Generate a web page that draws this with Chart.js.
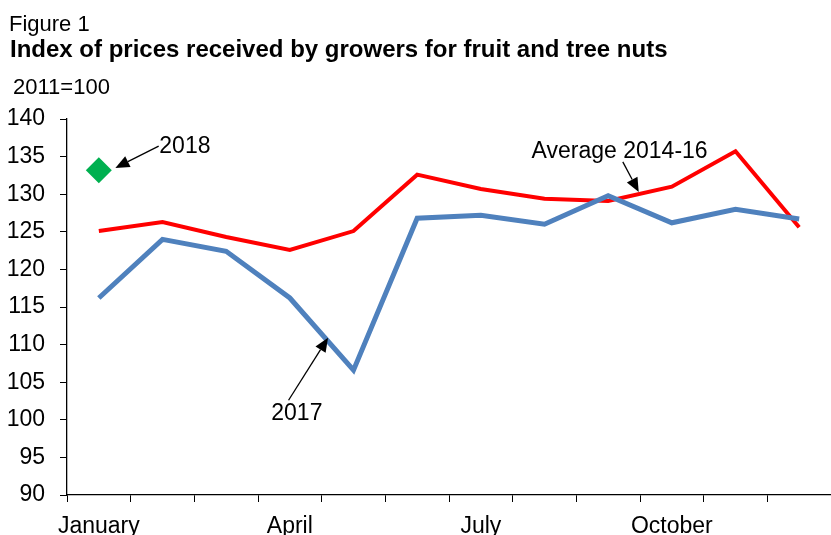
<!DOCTYPE html>
<html>
<head>
<meta charset="utf-8">
<script src="https://cdn.jsdelivr.net/npm/chart.js@4.4.1/dist/chart.umd.min.js"></script>
<style>
  html, body { margin: 0; padding: 0; background: #fff; overflow: hidden; }
  canvas { display: block; }
</style>
</head>
<body>
<canvas id="chart-fig1" width="831" height="535"></canvas>
<script>
// Index of prices received by growers for fruit and tree nuts (2011=100)
const months = ["January", "February", "March", "April", "May", "June",
  "July", "August", "September", "October", "November", "December"];
const shownMonths = ["January", "April", "July", "October"];

const avg2014to16 = [125.1, 126.3, 124.3, 122.6, 125.1, 132.6, 130.7, 129.4, 129.1, 131.0, 135.7, 125.6];
const values2017 = [116.2, 124.0, 122.4, 116.2, 106.6, 126.8, 127.2, 126.0, 129.8, 126.2, 128.0, 126.7];
const values2018 = [133.2, null, null, null, null, null, null, null, null, null, null, null];

const yTicks = [90, 95, 100, 105, 110, 115, 120, 125, 130, 135, 140];

// Callout labels with arrows, positioned in data units (x = month index, y = index value)
const callouts = [
  { text: "2018", tx: 0.95, ty: 136.3, align: "left", from: [0.94, 136.4], to: [0.26, 133.5] },
  { text: "Average 2014-16", tx: 8.18, ty: 135.6, align: "center", from: [8.23, 134.3], to: [8.48, 130.3] },
  { text: "2017", tx: 3.11, ty: 100.8, align: "center", from: [2.98, 102.6], to: [3.6, 110.9] }
];

const FONT = "'Liberation Sans', Arial, sans-serif";

const headerPlugin = {
  id: 'header',
  afterDraw: (chart) => {
    const c = chart.ctx;
    c.save();
    c.fillStyle = '#000';
    c.textBaseline = 'alphabetic';
    c.textAlign = 'left';
    c.font = '22px ' + FONT;
    c.fillText('Figure 1', 9, 31);
    c.font = 'bold 24px ' + FONT;
    c.fillText('Index of prices received by growers for fruit and tree nuts', 10, 57);
    c.font = '22px ' + FONT;
    c.fillText('2011=100', 13, 94);
    c.restore();
  }
};

// draws the callout text and arrows
const calloutPlugin = {
  id: 'callouts',
  afterDatasetsDraw: (chart) => {
    const c = chart.ctx;
    const xs = chart.scales.x, ys = chart.scales.y;
    const px = (i) => xs.getPixelForValue(0) + i * (xs.getPixelForValue(1) - xs.getPixelForValue(0));
    c.save();
    c.font = '23px ' + FONT;
    c.fillStyle = '#000';
    c.strokeStyle = '#000';
    callouts.forEach(co => {
      c.textAlign = co.align;
      c.textBaseline = 'middle';
      c.fillText(co.text, px(co.tx), ys.getPixelForValue(co.ty));
      const x1 = px(co.from[0]), y1 = ys.getPixelForValue(co.from[1]);
      const x2 = px(co.to[0]), y2 = ys.getPixelForValue(co.to[1]);
      const ang = Math.atan2(y2 - y1, x2 - x1);
      const headLen = 14, headW = 6;
      const bx = x2 - headLen * Math.cos(ang), by = y2 - headLen * Math.sin(ang);
      c.lineWidth = 1.3;
      c.beginPath();
      c.moveTo(x1, y1);
      c.lineTo(bx, by);
      c.stroke();
      c.beginPath();
      c.moveTo(x2, y2);
      c.lineTo(bx + headW * Math.sin(ang), by - headW * Math.cos(ang));
      c.lineTo(bx - headW * Math.sin(ang), by + headW * Math.cos(ang));
      c.closePath();
      c.fill();
    });
    c.restore();
  }
};

new Chart(document.getElementById('chart-fig1'), {
  type: 'line',
  data: {
    labels: months,
    datasets: [
      {
        label: 'Average 2014-16',
        data: avg2014to16,
        borderColor: '#FF0000',
        borderWidth: 4,
        pointRadius: 0,
        tension: 0,
        order: 2
      },
      {
        label: '2017',
        data: values2017,
        borderColor: '#4F81BD',
        borderWidth: 5,
        pointRadius: 0,
        tension: 0,
        order: 1
      },
      {
        label: '2018',
        data: values2018,
        borderColor: '#00B050',
        backgroundColor: '#00B050',
        showLine: false,
        pointStyle: 'rectRot',
        pointRadius: 13,
        pointBorderWidth: 0,
        order: 0
      }
    ]
  },
  options: {
    responsive: false,
    animation: false,
    layout: { autoPadding: false, padding: { top: 119, right: 0, left: 0, bottom: 0 } },
    plugins: {
      legend: { display: false },
      tooltip: { enabled: false }
    },
    scales: {
      x: {
        offset: true,
        grid: {
          display: true,
          drawOnChartArea: false,
          drawTicks: true,
          tickLength: 7,
          color: '#000',
          offset: true
        },
        border: { display: true, color: '#000', width: 1.3 },
        ticks: {
          autoSkip: false,
          maxRotation: 0,
          color: '#000',
          font: { size: 23, family: FONT },
          padding: 11,
          callback: function (value, index) {
            const m = months[index];
            return shownMonths.includes(m) ? m : '';
          }
        },
        afterFit: (scale) => {
          scale.height = 40;
          scale.paddingLeft = 0;
          scale.paddingRight = 0;
        }
      },
      y: {
        min: 90,
        max: 140,
        afterBuildTicks: (scale) => { scale.ticks = yTicks.map(v => ({ value: v })); },
        grid: {
          display: true,
          drawOnChartArea: false,
          drawTicks: true,
          tickLength: 7,
          color: '#000'
        },
        border: { display: true, color: '#000', width: 1.3 },
        ticks: {
          color: '#000',
          font: { size: 23, family: FONT },
          padding: 15
        },
        afterFit: (scale) => { scale.width = 67; }
      }
    }
  },
  plugins: [headerPlugin, calloutPlugin]
});
</script>
</body>
</html>
